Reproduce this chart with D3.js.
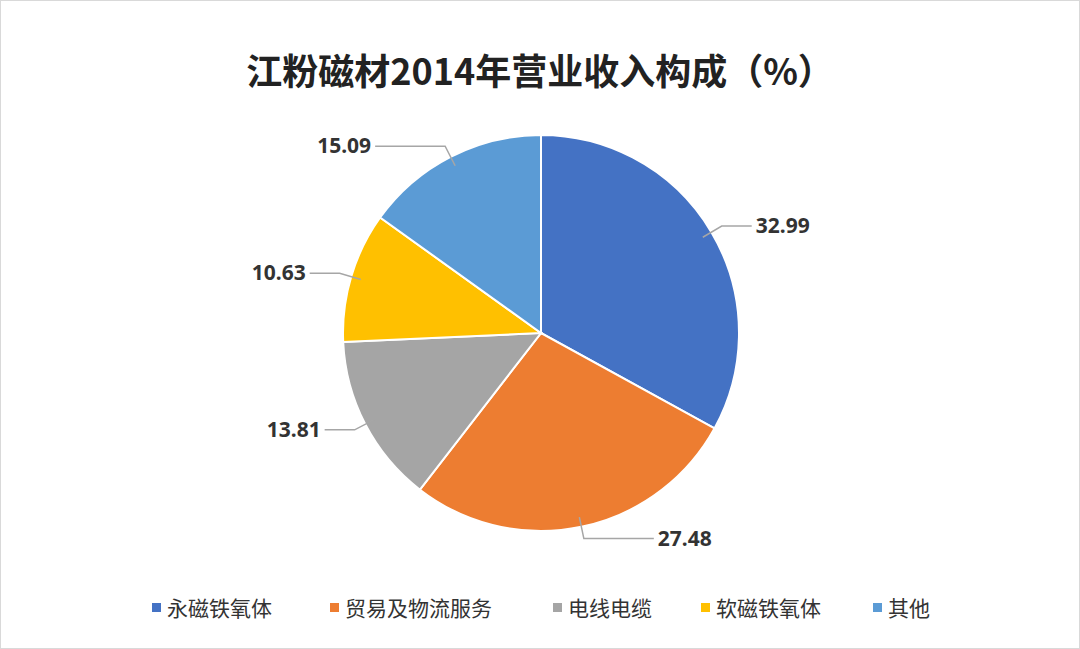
<!DOCTYPE html><html><head><meta charset="utf-8"><script src="https://cdn.jsdelivr.net/npm/d3@7"></script>
<style>body{margin:0;background:#fff}</style></head><body><svg id="c" width="1080" height="649"></svg>
<script>
const categories=["永磁铁氧体","贸易及物流服务","电线电缆","软磁铁氧体","其他"];
const values=[32.99,27.48,13.81,10.63,15.09];
const colors=["#4472C4","#ED7D31","#A5A5A5","#FFC000","#5B9BD5"];
const labels=["32.99","27.48","13.81","10.63","15.09"];
const svg=d3.select("#c");
svg.append("rect").attr("x",0.5).attr("y",0.5).attr("width",1079).attr("height",648).attr("fill","#fff").attr("stroke","#d9d9d9");
svg.append("text").attr("x",540).attr("y",85).attr("text-anchor","middle").attr("font-family","Noto Sans CJK SC").attr("font-weight","bold").attr("font-size",36).attr("fill","#222").text("江粉磁材2014年营业收入构成（%）");
const cx=541,cy=333,R=198;
const g=svg.append("g").attr("transform",`translate(${cx},${cy})`);
const pie=d3.pie().sort(null).value(d=>d)(values);
const arc=d3.arc().innerRadius(0).outerRadius(R);
g.selectAll("path").data(pie).join("path").attr("d",arc).attr("fill",(d,i)=>colors[i]).attr("stroke","#fff").attr("stroke-width",2);
pie.forEach((d,i)=>{
 const a=(d.startAngle+d.endAngle)/2;
 const p0=[Math.sin(a)*(R-10),-Math.cos(a)*(R-10)];
 const p1=[Math.sin(a)*(R+12),-Math.cos(a)*(R+12)];
 const right=Math.sin(a)>0;
 const h=Math.abs(Math.cos(a))>0.8?70:30;
 const p2=[p1[0]+(right?h:-h),p1[1]];
 g.append("polyline").attr("points",[p0,p1,p2].map(p=>p.join(",")).join(" ")).attr("fill","none").attr("stroke","#a6a6a6").attr("stroke-width",1.5);
 g.append("text").attr("x",p2[0]+(right?4:-4)).attr("y",p2[1]+7).attr("text-anchor",right?"start":"end").attr("font-family","Noto Sans").attr("font-weight","bold").attr("font-size",21).attr("fill","#333").text(labels[i]);
});
const lx=[152,330,553,701,873];
categories.forEach((c,i)=>{
 svg.append("rect").attr("x",lx[i]).attr("y",603).attr("width",9).attr("height",9).attr("fill",colors[i]);
 svg.append("text").attr("x",lx[i]+15).attr("y",616).attr("font-family","Noto Sans CJK SC").attr("font-size",21).attr("fill","#333").text(c);
});
</script></body></html>
